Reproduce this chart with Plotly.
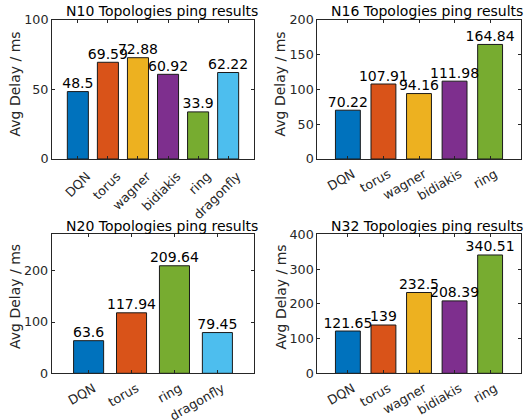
import plotly.graph_objects as go

# ---- data ----
cats_n10 = ["DQN", "torus", "wagner", "bidiakis", "ring", "dragonfly"]
vals_n10 = [48.5, 69.59, 72.88, 60.92, 33.9, 62.22]
cats_n16 = ["DQN", "torus", "wagner", "bidiakis", "ring"]
vals_n16 = [70.22, 107.91, 94.16, 111.98, 164.84]
cats_n20 = ["DQN", "torus", "ring", "dragonfly"]
vals_n20 = [63.6, 117.94, 209.64, 79.45]
cats_n32 = ["DQN", "torus", "wagner", "bidiakis", "ring"]
vals_n32 = [121.65, 139, 232.5, 208.39, 340.51]
titles = ["N10 Topologies ping results", "N16 Topologies ping results",
          "N20 Topologies ping results", "N32 Topologies ping results"]
y_label = "Avg Delay / ms"
y_max = [100, 200, 271, 400]
y_dtick = [50, 50, 100, 100]
tick_angles = [-45, -30, -30, -30]
label_shift = [9, 5, 5, 5]
label_standoff = [4, 2, 2, 2]

colors = {"DQN": "#0072BD", "torus": "#D95319", "wagner": "#EDB120",
          "bidiakis": "#7E2F8E", "ring": "#77AC30", "dragonfly": "#4DBEEE"}

W, H = 528, 420
FONT = "DejaVu Sans"
AX = "#262626"

# pixel boxes (left, right, top, bottom)
boxes = [(52, 254, 20, 159), (317.3, 520.7, 20, 159),
         (51.7, 254.3, 234.3, 373.3), (317.3, 520.7, 234.3, 373.3)]
title_pos = [(161.5, 10.5), (426.5, 10.5), (161.5, 225.5), (426.5, 225.5)]
ylab_pos = [(15, 84.5), (280, 84.5), (15, 297), (280, 297.5)]

panels = [(cats_n10, vals_n10), (cats_n16, vals_n16), (cats_n20, vals_n20), (cats_n32, vals_n32)]

fig = go.Figure()
layout = dict(width=W, height=H, margin=dict(l=0, r=0, t=0, b=0, autoexpand=False),
              paper_bgcolor="white", plot_bgcolor="white", showlegend=False,
              font=dict(family=FONT, color=AX), annotations=[])

for i, (cats, vals) in enumerate(panels):
    k = "" if i == 0 else str(i + 1)
    xa, ya = "x" + k, "y" + k
    fig.add_trace(go.Bar(x=cats, y=vals, xaxis=xa, yaxis=ya, width=0.7,
                         marker=dict(color=[colors[c] for c in cats],
                                     line=dict(color="#1a1a1a", width=1)),
                         hoverinfo="skip"))
    fig.add_trace(go.Scatter(x=cats, y=vals, xaxis=xa, yaxis=ya, mode="text",
                             text=[f"{v:g}" for v in vals], textposition="top center",
                             textfont=dict(family=FONT, size=14, color="black"),
                             cliponaxis=False, hoverinfo="skip"))
    l, r, t, b = boxes[i]
    n = len(cats)
    layout["xaxis" + k] = dict(domain=[l / W, r / W], anchor=ya, type="category",
                               range=[-0.86, n - 1 + 0.86], showline=True, linecolor=AX,
                               linewidth=1, mirror="ticks", ticks="inside", ticklen=3,
                               tickcolor=AX, tickangle=tick_angles[i], showgrid=False,
                               automargin=False, ticklabelshift=label_shift[i],
                               ticklabelstandoff=label_standoff[i],
                               tickfont=dict(family=FONT, size=12.7, color=AX), zeroline=False)
    layout["yaxis" + k] = dict(domain=[1 - b / H, 1 - t / H], anchor=xa,
                               range=[0, y_max[i]], dtick=y_dtick[i], tick0=0,
                               showline=True, linecolor=AX, linewidth=1, mirror="ticks",
                               ticks="inside", ticklen=3, tickcolor=AX, showgrid=False,
                               automargin=False,
                               zeroline=False, tickfont=dict(family=FONT, size=12.7, color=AX))
    tx, ty = title_pos[i]
    layout["annotations"].append(dict(text=titles[i], x=tx / W, y=1 - ty / H, xref="paper",
                                      yref="paper", xanchor="center", yanchor="middle",
                                      showarrow=False, font=dict(family=FONT, size=14, color="black")))
    lx, ly = ylab_pos[i]
    layout["annotations"].append(dict(text=y_label, x=lx / W, y=1 - ly / H, xref="paper",
                                      yref="paper", xanchor="center", yanchor="middle",
                                      textangle=-90, showarrow=False,
                                      font=dict(family=FONT, size=14, color=AX)))

fig.update_layout(**layout)
fig.write_html("out.html", config={"displayModeBar": False},
               post_script="document.body.style.margin='0';document.body.style.overflow='hidden';")
